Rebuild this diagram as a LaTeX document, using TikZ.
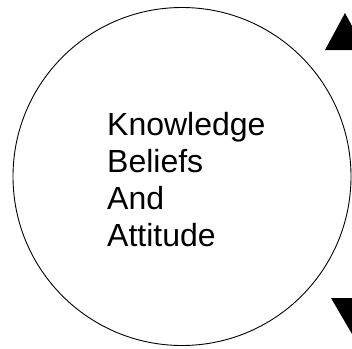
\documentclass[tikz,border=0pt]{standalone}
\usepackage{fontspec}
\setmainfont{Liberation Sans}
\begin{document}
\begin{tikzpicture}[x=1pt,y=-1pt,
  ring/.style={draw=black,line width=0.9pt},
  headfill/.style={fill=black},
  label/.style={font=\fontsize{32}{37}\selectfont,align=left,anchor=north west,inner sep=0pt}]
\useasboundingbox (0,0) rectangle (352,348);
\clip (0,0) rectangle (352,348);
\fill[white] (0,0) rectangle (352,348);
\node[ring,circle,minimum size=338pt,inner sep=0pt] (circ) at (182,176.5) {};
\node[label] (txt) at (107,112) {Knowledge\\Beliefs\\And\\Attitude};
% arrowheads of connectors leaving the frame
\coordinate (uptip) at (345,13);
\coordinate (upl) at (325,50);
\coordinate (upr) at (365,50);
\fill[headfill] (uptip) -- (upl) -- (upr) -- cycle;
\coordinate (dntip) at (352,334);
\coordinate (dnl) at (331,298);
\coordinate (dnr) at (373,298);
\fill[headfill] (dntip) -- (dnl) -- (dnr) -- cycle;
\end{tikzpicture}
\end{document}
